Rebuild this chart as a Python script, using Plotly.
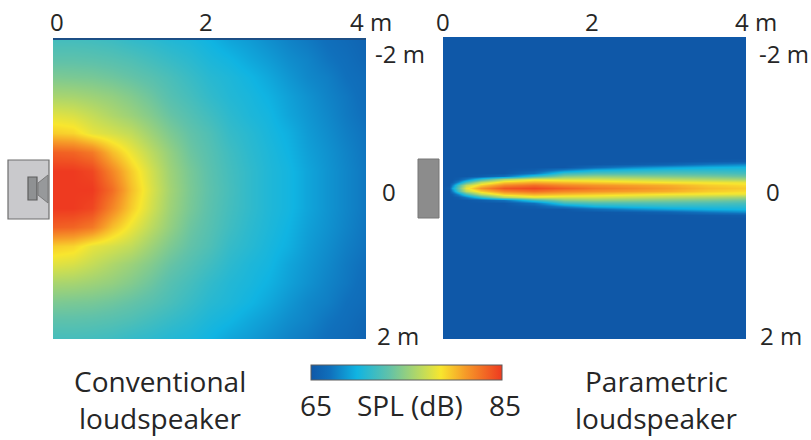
import plotly.graph_objects as go

W, H = 811, 440

# ---- data: sound pressure level in dB ----
left_x = [0, .25, .5, .75, 1, 1.25, 1.5, 1.75, 2, 2.25, 2.5, 2.75, 3, 3.25, 3.5, 3.75, 4]
left_y = [-2, -1.75, -1.5, -1.25, -1, -.75, -.5, -.25, 0, .25, .5, .75, 1, 1.25, 1.5, 1.75, 2]
L00 = [85, 85, 85, 83, 80, 77.6, 75.6, 74.1, 73, 72.1, 71.2, 70.5, 70, 69.2, 68.5, 67.9, 67.3]
L25 = [85, 85, 84.5, 82, 79.5, 77.3, 75.4, 74, 72.9, 72, 71.2, 70.5, 70, 69.2, 68.5, 67.9, 67.3]
L50 = [83.5, 83.3, 82.5, 80, 78.2, 76.5, 75, 73.6, 72.7, 71.8, 71, 70.4, 69.8, 69, 68.4, 67.8, 67.2]
L75 = [79.5, 79.2, 78, 77.4, 76.7, 75.4, 74.2, 73.2, 72.4, 71.4, 70.8, 70.2, 69.6, 68.8, 68.2, 67.6, 67.1]
L100 = [77.8, 77.5, 76.8, 76, 75.3, 74.4, 73.4, 72.6, 71.8, 71, 70.4, 70, 69.2, 68.6, 68, 67.4, 66.9]
L125 = [75.8, 75.7, 75.4, 75, 74.4, 73.6, 72.7, 72, 71.2, 70.6, 70.2, 69.7, 69, 68.4, 67.8, 67.3, 66.7]
L150 = [74.2, 74.1, 74, 73.7, 73.3, 72.8, 72.2, 71.5, 70.8, 70.4, 69.9, 69.3, 68.6, 68, 67.6, 67, 66.6]
L175 = [73, 73, 72.9, 72.7, 72.4, 71.9, 71.4, 70.9, 70.3, 69.9, 69.3, 68.8, 68.2, 67.8, 67.2, 66.8, 66.2]
L200 = [72, 72, 71.9, 71.7, 71.3, 71, 70.6, 70.3, 69.8, 69.2, 68.8, 68.3, 67.8, 67.4, 66.9, 66.5, 66]
left_z = [L200, L175, L150, L125, L100, L75, L50, L25, L00, L25, L50, L75, L100, L125, L150, L175, L200]

right_x = [0, .08, .12, .2, .3, .5, .8, 1.2, 1.6, 2, 2.5, 3, 3.5, 4]
right_y = [-2, -.4, -.36, -.32, -.28, -.24, -.2, -.16, -.12, -.08, -.04, 0,
           .04, .08, .12, .16, .2, .24, .28, .32, .36, .4, 2]
R00 = [65, 65.5, 69, 73, 78, 81.5, 84, 84.5, 83.5, 82.5, 81.8, 81, 80, 79.5]
R04 = [65, 65, 67.5, 72, 76.5, 79.5, 82, 83, 82, 81.5, 81, 80.5, 79.5, 79]
R08 = [65, 65, 65.5, 68, 72, 76.5, 79.5, 80.5, 80, 79.5, 79, 78.5, 78.3, 78]
R12 = [65, 65, 65, 65.5, 67.5, 71.5, 76, 78, 77.5, 77.5, 77, 76.5, 76, 75.5]
R16 = [65, 65, 65, 65, 65, 65.5, 67, 71.5, 74.5, 75, 74.7, 74.3, 74, 73.5]
R20 = [65, 65, 65, 65, 65, 65, 65, 67, 71.5, 72.3, 72.4, 72.5, 72.3, 72]
R24 = [65, 65, 65, 65, 65, 65, 65, 65.5, 68, 70, 70.6, 71, 71, 71]
R28 = [65, 65, 65, 65, 65, 65, 65, 65, 65, 66.5, 68, 69, 69.7, 70]
R32 = [65, 65, 65, 65, 65, 65, 65, 65, 65, 65, 65.3, 66, 67.2, 68]
R36 = [65, 65, 65, 65, 65, 65, 65, 65, 65, 65, 65, 65, 65.2, 65.5]
R40 = [65, 65, 65, 65, 65, 65, 65, 65, 65, 65, 65, 65, 65, 65]
right_z = [R40, R40, R36, R32, R28, R24, R20, R16, R12, R08, R04, R00,
           R04, R08, R12, R16, R20, R24, R28, R32, R36, R40, R40]

spl_min, spl_max = 65, 85
x_ticks = [0, 2, 4]
x_tick_labels = ["0", "2", "4 m"]
y_ticks = [-2, 0, 2]
y_tick_labels = ["-2 m", "0", "2 m"]

colorscale = [
    [0.00, "#0f58a8"], [0.10, "#1070bc"], [0.24, "#10b4e2"], [0.41, "#62c2a8"],
    [0.59, "#c4dc58"], [0.68, "#f8e62e"], [0.81, "#f69a28"], [1.00, "#ee3a20"],
]

FONT = "Open Sans"
INK = "#262626"


def px(x):
    return x / W


def py(y):
    return 1 - y / H


fig = go.Figure()
fig.add_trace(go.Heatmap(x=left_x, y=left_y, z=left_z, coloraxis="coloraxis",
                         zsmooth="best", xaxis="x", yaxis="y", hoverinfo="skip"))
fig.add_trace(go.Heatmap(x=right_x, y=right_y, z=right_z, coloraxis="coloraxis",
                         zsmooth="best", xaxis="x2", yaxis="y2", hoverinfo="skip"))


def axis_x(x0, x1, y_anchor):
    return dict(domain=[px(x0), px(x1)], range=[0, 4], anchor=y_anchor, showgrid=False,
                zeroline=False, showticklabels=False, ticks="")


def axis_y(y0, y1, x_anchor):
    return dict(domain=[py(y1), py(y0)], range=[2, -2], anchor=x_anchor, showgrid=False,
                zeroline=False, showticklabels=False, ticks="")


annotations = []


def label(text, x, y, size=24):
    annotations.append(dict(text=text, x=px(x), y=py(y), xref="paper", yref="paper",
                            xanchor="center", yanchor="middle", showarrow=False,
                            font=dict(family=FONT, size=size, color=INK)))


# axis labels
for tick, text, xl, xr in zip(x_ticks, x_tick_labels, [57, 206, 371], [443, 592, 756]):
    label(text, xl, 21)
    label(text, xr, 21)
for tick, text, yp, xl, xr in zip(y_ticks, y_tick_labels, [54, 192, 335], [400, 389, 398], [784, 773, 781]):
    label(text, xl, yp)
    label(text, xr, yp)

# captions
label("Conventional", 160, 381, 28)
label("loudspeaker", 160, 418, 28)
label("Parametric", 656, 381, 28)
label("loudspeaker", 656, 418, 28)
label(str(spl_min), 316, 405, 28)
label("SPL (dB)", 410, 405, 28)
label(str(spl_max), 505, 405, 28)


def rect(x0, y0, x1, y1, fill, line, width=1):
    return dict(type="rect", xref="paper", yref="paper", x0=px(x0), x1=px(x1),
                y0=py(y1), y1=py(y0), fillcolor=fill, line=dict(color=line, width=width))


def poly(points, fill, line):
    path = "M " + " L ".join(f"{px(a):.5f} {py(b):.5f}" for a, b in points) + " Z"
    return dict(type="path", xref="paper", yref="paper", path=path, fillcolor=fill,
                line=dict(color=line, width=1))


shapes = [
    rect(8, 160, 49, 219, "#c9c9cc", "#6e6e6e", 1.2),
    rect(28, 177, 37, 200, "#8f9193", "#5e5e5e", 1.2),
    poly([(38, 183), (48, 175), (48, 203), (38, 195)], "#97999b", "#7a7a7a"),
    rect(418, 159, 439, 218, "#8c8c8c", "#777777", 1),
]

fig.update_layout(
    width=W, height=H, margin=dict(l=0, r=0, t=0, b=0),
    paper_bgcolor="white", plot_bgcolor="white", showlegend=False,
    xaxis=axis_x(53, 366, "y"), yaxis=axis_y(40, 339, "x"),
    xaxis2=axis_x(443, 746, "y2"), yaxis2=axis_y(37, 339, "x2"),
    coloraxis=dict(
        cmin=spl_min, cmax=spl_max, colorscale=colorscale,
        colorbar=dict(orientation="h", lenmode="pixels", len=191, thicknessmode="pixels",
                      thickness=15, x=px(311), xanchor="left", y=py(381), yanchor="bottom",
                      xpad=0, ypad=0, showticklabels=False, ticks="", outlinewidth=1,
                      outlinecolor="#5c5c5c"),
    ),
    annotations=annotations, shapes=shapes,
)
fig.update_xaxes(showline=True, linecolor="#1c4f86", linewidth=2, side="top", mirror=False)
fig.update_layout(xaxis2=dict(showline=False))

fig.write_html("out.html", config=dict(displayModeBar=False),
               post_script="document.body.style.margin='0';document.body.style.overflow='hidden';")
